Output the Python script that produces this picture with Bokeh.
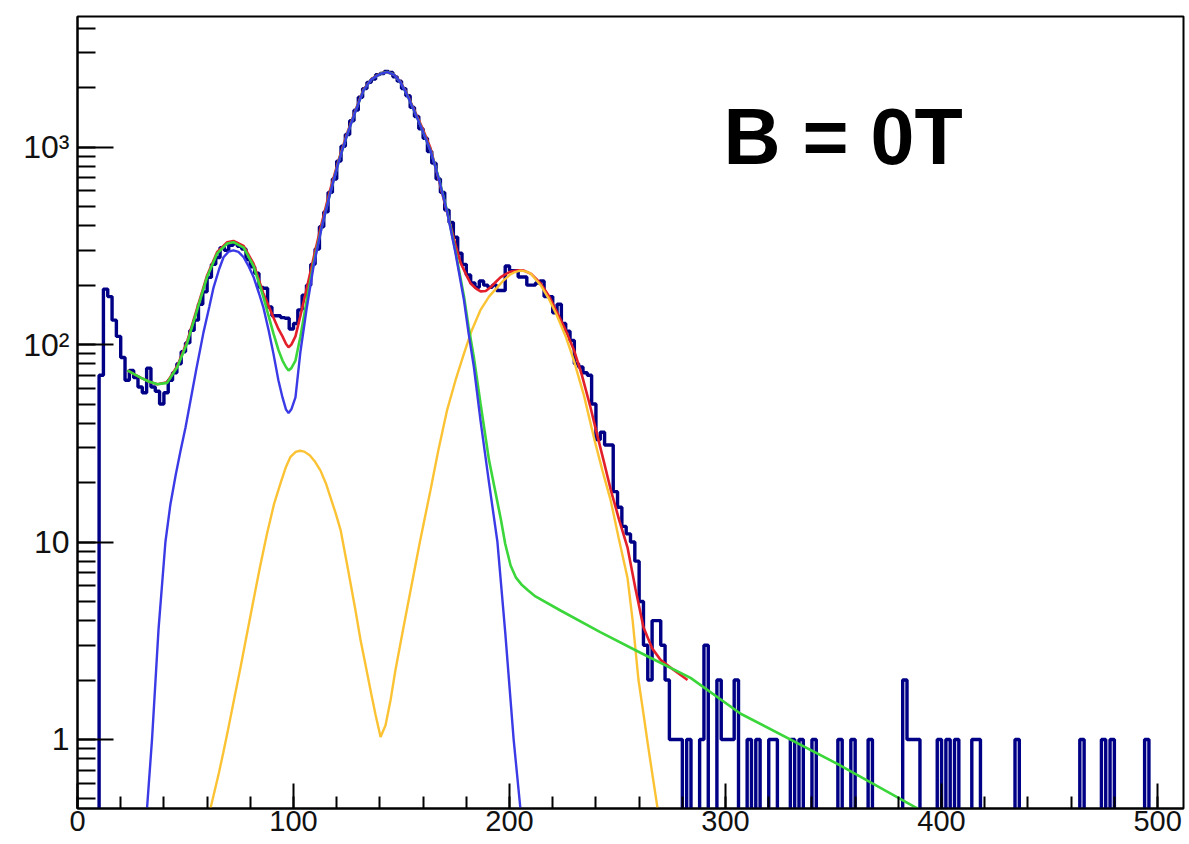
import numpy as np
from bokeh.plotting import figure
from bokeh.models import (Range1d, LogTicker, SingleIntervalTicker,
                          CustomJSTickFormatter, Label)
from bokeh.embed import file_html
from bokeh.resources import INLINE

# ---------------- data ----------------
BIN_WIDTH = 2
HIST_START = 10
HIST_END = 512

# counts of consecutive bins starting at x = 10 (bin width 2)
hist_main = [
    70, 191, 175, 133, 110, 86, 66, 74, 68, 61,          # 10-28
    57, 76, 61, 58, 50, 57, 66, 72, 80, 92,              # 30-48
    102, 118, 133, 160, 185, 219, 255, 276, 310, 300,    # 50-68
    318, 325, 315, 305, 270, 248, 230, 195, 193, 155,    # 70-88
    140, 140, 137, 136, 120, 128, 150, 178, 200, 255,    # 90-108
    305, 395, 470, 590, 690, 850, 1010, 1160, 1360, 1540,  # 110-128
    1790, 1980, 2130, 2210, 2330, 2360, 2420, 2390, 2270, 2160,  # 130-148
    1980, 1820, 1590, 1430, 1240, 1110, 950, 830, 690, 590,  # 150-168
    480, 415, 350, 290, 255, 225, 205, 195, 210, 200,    # 170-188
    195, 200, 188, 188, 250, 237, 237, 220, 220, 200,    # 190-208
    200, 205, 210, 175, 175, 145, 160, 128, 117, 105,    # 210-228
    80, 77, 72, 70, 50, 33, 36, 31, 31, 18,              # 230-248
    15, 12, 11, 10, 8, 5, 3, 2, 4, 4,                    # 250-268
    3, 2,                                                # 270-272
]
# sparse tail: bin start -> count (all other bins are empty)
tail_bins = [274, 276, 278, 282, 288, 290, 296, 298, 300, 302, 304, 310, 314,
             320, 322, 330, 334, 340, 352, 358, 366, 382, 384, 386, 388, 398,
             402, 406, 414, 416, 434, 464, 474, 478, 494]
tail_counts = [1, 1, 1, 1, 1, 3, 2, 1, 1, 1, 2, 1, 1,
               1, 1, 1, 1, 1, 1, 1, 1, 2, 1, 1, 1, 1,
               1, 1, 1, 1, 1, 1, 1, 1, 1]

blue_x = [32.2, 34.5, 37.5, 40.7, 43.0, 45.5, 47.7, 50.0, 52.3, 55.0, 58.3, 61.0,
          63.0, 65.5, 67.6, 70.0, 72.2, 74.5, 76.9, 79.0, 81.5, 84.0, 86.0, 88.5,
          90.7, 93.0, 94.9, 96.5, 97.7, 99.0, 100.9, 103.2, 106.0, 109.3, 113.0,
          117.0, 121.0, 125.0, 128.7, 132.4, 136.0, 140.0, 143.4, 146.5, 149.5,
          152.5, 155.6, 159.5, 163.4, 167.3, 171.2, 175.0, 178.9, 181.0, 183.5,
          186.6, 190.5, 194.4, 198.0, 201.9, 205.0]
blue_y = [0.45, 1.0, 3.6, 10, 15.5, 22, 29, 38, 52, 75, 115, 155,
          195, 240, 277, 296, 300, 295, 277, 252, 220, 182, 155, 118,
          90, 66, 54, 47, 45, 47, 54, 92, 150, 250, 390,
          585, 850, 1170, 1520, 1940, 2200, 2350, 2400, 2330, 2130,
          1850, 1550, 1230, 960, 690, 465, 290, 168, 115, 77,
          41, 20, 10, 3.5, 1.0, 0.45]

green_x = [23.1, 26.0, 29.2, 33.0, 37.0, 41.5, 46.2, 50.8, 55.4, 60.0, 64.7, 69.3,
           72.2, 76.9, 81.5, 86.0, 90.7, 93.0, 94.9, 96.5, 97.7, 99.0, 100.9, 103.2,
           106.0, 109.3, 113.0, 117.0, 121.0, 125.0, 128.7, 132.4, 136.0, 140.0,
           143.4, 146.5, 149.5, 152.5, 155.6, 159.5, 163.4, 167.3, 171.2, 175.0,
           178.9, 181.0, 183.5, 186.6, 190.5, 193.0, 196.0, 198.0, 200.5, 203.0,
           205.5, 208.5, 212.0, 223.6, 242.0, 260.6, 283.8, 307.0, 353.0, 390.0]
green_y = [74, 71, 68, 65, 63, 64, 77, 102, 150, 220, 290, 325,
           330, 310, 250, 175, 114, 94, 83, 77, 74, 76, 83, 110,
           165, 258, 392, 587, 852, 1172, 1522, 1942, 2202, 2352,
           2402, 2332, 2132, 1852, 1552, 1232, 962, 694, 470, 296,
           176, 124, 86, 50, 26, 19, 13, 9.8, 7.6, 6.6,
           6.1, 5.7, 5.3, 4.5, 3.5, 2.75, 2.05, 1.35, 0.74, 0.44]

red_x = [23.1, 26.0, 29.2, 33.0, 37.0, 41.5, 46.2, 50.8, 55.4, 60.0, 64.7, 69.3,
         72.2, 76.9, 81.5, 86.0, 90.7, 93.0, 94.9, 96.5, 97.7, 99.0, 100.9, 103.2,
         106.0, 109.3, 113.0, 117.0, 121.0, 125.0, 128.7, 132.4, 136.0, 140.0,
         143.4, 146.5, 149.5, 152.5, 155.6, 159.5, 163.4, 167.0, 170.4, 172.7,
         175.0, 177.3, 180.0, 182.0, 184.5, 186.6, 189.0, 191.2, 193.5, 195.8,
         198.0, 200.0, 202.0, 204.0, 206.7, 210.0, 214.4, 218.0, 222.1, 226.0,
         229.8, 233.5, 237.5, 240.0, 243.5, 246.8, 250.7, 254.6, 258.3, 262.0,
         266.0, 269.9, 276.0, 282.4]
red_y = [74, 71, 68, 65, 63, 64.5, 78, 104, 153, 224, 295, 330,
         335, 316, 257, 182, 137, 120, 110, 101, 97, 100, 110, 140,
         190, 275, 410, 610, 870, 1190, 1540, 1960, 2210, 2360,
         2405, 2335, 2140, 1865, 1570, 1260, 990, 700, 500, 400,
         320, 260, 225, 204, 192, 186, 187, 195, 207, 219,
         227, 233, 236, 238, 237, 228, 204, 178, 145, 118,
         94, 70, 48, 37, 26, 18.5, 13, 9.4, 5.8, 3.7,
         2.9, 2.53, 2.25, 2.0]

orange_x = [61.6, 63.5, 65.5, 67.5, 69.4, 72.5, 75.5, 78.5, 81.5, 84.5, 87.8,
            91.0, 94.0, 96.5, 98.6, 101.0, 103.0, 105.0, 107.5, 110.0, 112.5,
            115.0, 117.0, 119.5, 121.8, 125.0, 128.7, 131.0, 133.3, 136.0, 138.0,
            140.3, 142.6, 145.0, 147.2, 150.5, 154.2, 158.5, 163.4, 167.0, 171.1,
            175.0, 178.9, 182.5, 186.6, 190.5, 194.3, 197.0, 200.0, 202.5, 205.0,
            207.5, 210.0, 214.4, 218.0, 222.0, 226.0, 229.8, 234.5, 239.0, 243.0,
            246.8, 250.5, 254.6, 257.0, 259.7, 262.0, 264.0, 266.0, 268.5]
orange_y = [0.45, 0.55, 0.68, 0.86, 1.08, 1.6, 2.33, 3.45, 5.1, 7.5, 11.1,
            15.6, 19.9, 24, 27, 28.6, 29, 28.7, 27.5, 25.5, 23,
            19.8, 17, 14, 11.5, 7.5, 4.5, 3.2, 2.4, 1.7, 1.33,
            1.03, 1.18, 1.6, 2.25, 3.5, 5.7, 10, 18.3, 29, 46.6,
            66, 90, 118, 150, 175, 195, 210, 225, 233, 237,
            235, 228, 200, 172, 140, 110, 83, 55, 34, 23,
            16.3, 10.5, 6.6, 4.0, 2.0, 1.35, 0.95, 0.68, 0.45]

y_tick_labels = {1: "1", 10: "10", 100: "10\u00b2", 1000: "10\u00b3"}
annotation = "B = 0T"

# ---------------- build histogram step path ----------------
n_bins = (HIST_END - HIST_START) // BIN_WIDTH
counts = np.zeros(n_bins)
counts[:len(hist_main)] = hist_main
for b, c in zip(tail_bins, tail_counts):
    counts[(b - HIST_START) // BIN_WIDTH] = c
FLOOR = 1e-2  # empty bins drop below the frame (log axis)
counts = np.where(counts > 0, counts, FLOOR)
edges = HIST_START + BIN_WIDTH * np.arange(n_bins + 1)
step_x = np.concatenate([[HIST_START - BIN_WIDTH], edges])
step_y = np.concatenate([[FLOOR], counts, [FLOOR]])

# ---------------- figure ----------------
p = figure(
    output_backend="svg", toolbar_location=None,
    y_axis_type="log",
    x_range=Range1d(0, 512), y_range=Range1d(0.447, 4590),
    frame_width=1106, frame_height=792,
    min_border_left=77, min_border_top=16, min_border_right=6, min_border_bottom=36,
    background_fill_color="white", border_fill_color="white",
)
p.xgrid.visible = False
p.ygrid.visible = False
p.outline_line_color = "black"
p.outline_line_width = 2
p.outline_line_alpha = 1.0

FONT = "Liberation Sans"
for ax in (p.xaxis[0], p.yaxis[0]):
    ax.axis_line_color = "black"
    ax.axis_line_width = 2
    ax.major_tick_line_color = "black"
    ax.major_tick_line_width = 2
    ax.minor_tick_line_color = "black"
    ax.minor_tick_line_width = 2
    ax.major_tick_out = 0
    ax.minor_tick_out = 0
    ax.major_label_text_font = FONT
    ax.major_label_text_color = "#111111"

p.xaxis.ticker = SingleIntervalTicker(interval=100, num_minor_ticks=5)
p.xaxis.major_tick_in = 25
p.xaxis.minor_tick_in = 12
p.xaxis.major_label_standoff = 2
p.xaxis.major_label_text_font_size = "29px"

p.yaxis.ticker = LogTicker(num_minor_ticks=10)
p.yaxis.major_tick_in = 36
p.yaxis.minor_tick_in = 18
p.yaxis.major_label_standoff = 8
p.yaxis.major_label_text_font_size = "32px"
p.yaxis.formatter = CustomJSTickFormatter(
    args=dict(labels={str(k): v for k, v in y_tick_labels.items()}),
    code="""
const k = Math.round(tick);
if (Math.abs(tick - k) > 1e-6) return "";
const s = String(k);
return (s in labels) ? labels[s] : "";
""")

# histogram
p.step(step_x, step_y, mode="after", line_color="#000086", line_width=3.4)

# fits
p.line(red_x, red_y, line_color="#e3202a", line_width=2.6)
p.line(orange_x, orange_y, line_color="#fbc334", line_width=2.4)
p.line(green_x, green_y, line_color="#3ad63a", line_width=2.6)
p.line(blue_x, blue_y, line_color="#3a3ae6", line_width=2.4)

p.add_layout(Label(x=299, y=1137, text=annotation, text_font=FONT,
                   text_font_style="bold", text_font_size="79px",
                   text_color="black", text_align="left",
                   text_baseline="alphabetic"))

open("out.html", "w").write(file_html(p, INLINE))
